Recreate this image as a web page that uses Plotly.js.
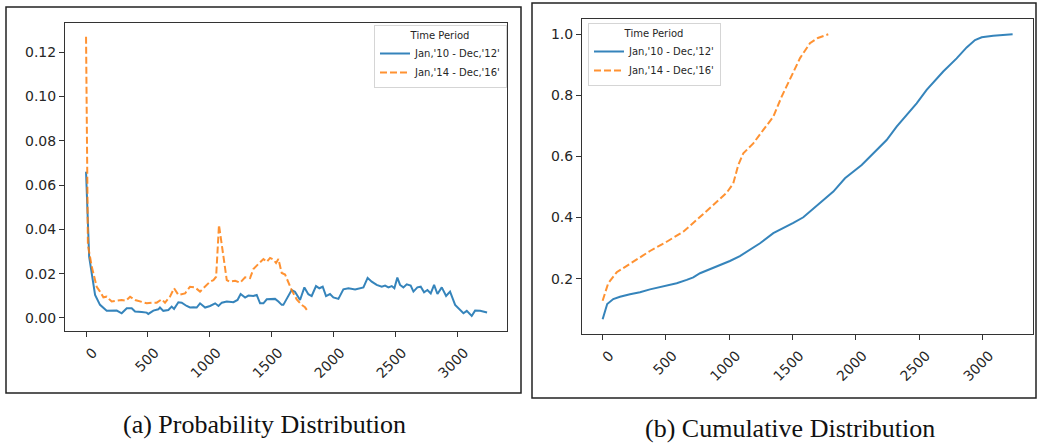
<!DOCTYPE html>
<html>
<head>
<meta charset="utf-8">
<script src="https://cdn.plot.ly/plotly-3.0.1.min.js"></script>
<style>html,body{margin:0;padding:0;background:#fff;}#chart{width:1038px;height:443px;}</style>
</head>
<body>
<div id="chart"></div>
<script>
// ---- Data ----
const seriesNames = ["Jan,'10 - Dec,'12'", "Jan,'14 - Dec,'16'"];
const legendTitle = "Time Period";
const captionA = "(a) Probability Distribution";
const captionB = "(b) Cumulative Distribution";

// (a) probability distribution, period 1
const pdf1X = [0, 25, 73, 113, 167, 248, 288, 329, 369, 396, 450, 490, 503, 544, 584, 597, 624, 665, 692, 711, 746, 773, 813, 840, 867, 894, 921, 962, 1002, 1043, 1070, 1097, 1137, 1191, 1224, 1249, 1285, 1312, 1352, 1379, 1406, 1433, 1460, 1527, 1554, 1581, 1594, 1621, 1661, 1688, 1729, 1764, 1796, 1823, 1858, 1885, 1912, 1939, 1971, 1998, 2039, 2079, 2120, 2174, 2214, 2241, 2275, 2308, 2348, 2389, 2416, 2443, 2470, 2491, 2515, 2537, 2564, 2591, 2623, 2645, 2677, 2704, 2731, 2758, 2785, 2812, 2839, 2874, 2909, 2941, 2982, 3009, 3049, 3076, 3116, 3143, 3184, 3240];
const pdf1Y = [0.066, 0.0277, 0.0104, 0.0059, 0.0032, 0.0033, 0.0021, 0.0044, 0.0044, 0.0029, 0.0027, 0.0024, 0.0018, 0.0033, 0.0039, 0.0047, 0.0032, 0.0036, 0.0051, 0.0041, 0.0071, 0.0069, 0.0054, 0.0047, 0.0048, 0.0047, 0.0066, 0.0047, 0.0054, 0.0066, 0.0054, 0.0069, 0.0074, 0.0071, 0.0081, 0.0108, 0.0092, 0.0101, 0.0099, 0.0104, 0.0066, 0.0066, 0.0084, 0.0086, 0.0074, 0.0059, 0.0059, 0.0089, 0.0126, 0.0118, 0.0081, 0.0138, 0.0107, 0.0099, 0.0144, 0.0134, 0.0141, 0.0099, 0.0108, 0.0093, 0.0086, 0.0129, 0.0134, 0.0129, 0.0134, 0.0138, 0.0181, 0.0164, 0.0149, 0.0141, 0.0146, 0.0138, 0.0144, 0.0134, 0.0182, 0.0149, 0.0138, 0.0152, 0.0146, 0.0119, 0.0138, 0.0141, 0.0116, 0.0126, 0.0111, 0.0149, 0.0108, 0.0138, 0.0099, 0.0119, 0.0059, 0.0044, 0.0021, 0.0032, 0.0009, 0.0033, 0.0032, 0.0025];

// (a) probability distribution, period 2
const pdf2X = [0, 15, 46, 86, 113, 140, 167, 207, 248, 288, 323, 356, 396, 436, 490, 530, 571, 611, 638, 678, 711, 746, 800, 840, 880, 921, 962, 1002, 1029, 1051, 1074, 1104, 1137, 1159, 1205, 1245, 1285, 1325, 1352, 1406, 1433, 1460, 1487, 1514, 1535, 1554, 1581, 1608, 1634, 1661, 1702, 1742, 1769, 1793];
const pdf2Y = [0.127, 0.033, 0.0232, 0.0141, 0.0119, 0.0093, 0.0096, 0.0074, 0.0078, 0.0081, 0.0078, 0.0096, 0.0081, 0.0074, 0.0066, 0.0069, 0.0069, 0.0084, 0.0069, 0.0096, 0.0134, 0.0104, 0.0111, 0.0141, 0.0138, 0.0119, 0.0141, 0.0164, 0.0171, 0.0186, 0.0420, 0.0307, 0.0171, 0.0164, 0.0168, 0.0159, 0.0183, 0.0180, 0.0221, 0.0251, 0.0266, 0.0253, 0.0271, 0.0263, 0.0248, 0.0266, 0.0203, 0.0196, 0.0158, 0.0126, 0.0084, 0.0059, 0.0048, 0.0029];

// (b) cumulative distribution, period 1
const cdf1X = [0, 36, 84, 137, 216, 295, 374, 505, 585, 664, 716, 769, 848, 926, 1005, 1084, 1163, 1243, 1348, 1426, 1506, 1585, 1637, 1690, 1730, 1822, 1914, 2046, 2243, 2322, 2480, 2559, 2690, 2796, 2875, 2941, 2994, 3085, 3238];
const cdf1Y = [0.067, 0.117, 0.1335, 0.141, 0.149, 0.1554, 0.165, 0.176, 0.185, 0.196, 0.2045, 0.218, 0.231, 0.245, 0.258, 0.274, 0.294, 0.316, 0.349, 0.365, 0.383, 0.401, 0.419, 0.440, 0.452, 0.485, 0.5285, 0.572, 0.654, 0.6975, 0.774, 0.818, 0.878, 0.921, 0.957, 0.981, 0.990, 0.995, 1.0];

// (b) cumulative distribution, period 2
const cdf2X = [0, 44, 111, 242, 374, 506, 637, 742, 874, 980, 1032, 1071, 1111, 1190, 1269, 1348, 1414, 1480, 1559, 1637, 1700, 1782];
const cdf2Y = [0.128, 0.185, 0.221, 0.2557, 0.2907, 0.321, 0.354, 0.392, 0.441, 0.4815, 0.512, 0.572, 0.6105, 0.643, 0.687, 0.730, 0.796, 0.856, 0.922, 0.9705, 0.988, 1.0];

const xTicks = [0, 500, 1000, 1500, 2000, 2500, 3000];
const yTicksA = [0, 0.02, 0.04, 0.06, 0.08, 0.10, 0.12];
const yTicksB = [0.2, 0.4, 0.6, 0.8, 1.0];

// ---- Styling ----
const blue = '#1f77b4', orange = '#ff7f0e';
const W = 1038, H = 443;
const tickFont = {family: 'DejaVu Sans, sans-serif', size: 14, color: '#262626'};

function line(x, y, name, color, dash, xa, ya, leg) {
  return {x, y, name, type: 'scatter', mode: 'lines', xaxis: xa, yaxis: ya, legend: leg,
    line: {color, width: 2, dash}, opacity: dash === 'solid' ? 0.9 : 0.85, hoverinfo: 'skip'};
}

const DASH = '7px,3px';
const traces = [
  line(pdf1X, pdf1Y, seriesNames[0], blue, 'solid', 'x', 'y', 'legend'),
  line(pdf2X, pdf2Y, seriesNames[1], orange, DASH, 'x', 'y', 'legend'),
  line(cdf1X, cdf1Y, seriesNames[0], blue, 'solid', 'x2', 'y2', 'legend2'),
  line(cdf2X, cdf2Y, seriesNames[1], orange, DASH, 'x2', 'y2', 'legend2')
];

function xAxis(domain, range, anchor) {
  return {domain, range, anchor, tickvals: xTicks, ticktext: xTicks.map(String), tickangle: -45,
    tickfont: tickFont, ticks: 'outside', ticklen: 5, tickcolor: '#333', showline: true, mirror: true,
    linecolor: '#333', linewidth: 1, showgrid: false, zeroline: false, ticklabelshift: 7, ticklabelstandoff: 2};
}
function yAxis(domain, range, anchor, vals, txt) {
  return {domain, range, anchor, tickvals: vals, ticktext: txt, tickfont: tickFont, ticks: 'outside',
    ticklen: 5, tickcolor: '#333', showline: true, mirror: true, linecolor: '#333', linewidth: 1,
    showgrid: false, zeroline: false};
}

const legendCommon = {
  bgcolor: 'rgba(255,255,255,0.8)', bordercolor: '#d5d5d5', borderwidth: 1,
  font: {family: 'DejaVu Sans, sans-serif', size: 10, color: '#262626'},
  title: {text: legendTitle, side: 'top center', font: {family: 'DejaVu Sans, sans-serif', size: 10, color: '#262626'}},
  tracegroupgap: 0, itemwidth: 30, traceorder: 'normal'
};

const layout = {
  width: W, height: H, margin: {l: 0, r: 0, t: 0, b: 0}, paper_bgcolor: '#fff', plot_bgcolor: '#fff',
  showlegend: true,
  xaxis: xAxis([65 / W, 507 / W], [-170, 3401], 'y'),
  yaxis: yAxis([1 - 331 / H, 1 - 23 / H], [-0.0059, 0.1332], 'x', yTicksA, yTicksA.map(v => v.toFixed(2))),
  xaxis2: xAxis([582 / W, 1033 / W], [-163, 3399], 'y2'),
  yaxis2: yAxis([1 - 334 / H, 1 - 19 / H], [0.019, 1.05], 'x2', yTicksB, yTicksB.map(v => v.toFixed(1))),
  legend: Object.assign({}, legendCommon, {x: 507 / W, xanchor: 'right', y: 1 - 25 / H, yanchor: 'top'}),
  legend2: Object.assign({}, legendCommon, {x: 588 / W, xanchor: 'left', y: 1 - 23 / H, yanchor: 'top'}),
  shapes: [
    {type: 'rect', xref: 'paper', yref: 'paper', x0: 6 / W, x1: 521 / W, y0: 1 - 393 / H, y1: 1 - 7 / H,
      line: {color: '#222', width: 1.5}},
    {type: 'rect', xref: 'paper', yref: 'paper', x0: 532 / W, x1: 1036 / W, y0: 1 - 398 / H, y1: 1 - 3 / H,
      line: {color: '#222', width: 1.5}}
  ],
  annotations: [
    {text: captionA, xref: 'paper', yref: 'paper', x: 264 / W, y: 1 - 424 / H, xanchor: 'center', yanchor: 'middle',
      showarrow: false, font: {family: 'Liberation Serif, Times New Roman, serif', size: 26, color: '#111'}},
    {text: captionB, xref: 'paper', yref: 'paper', x: 790 / W, y: 1 - 428 / H, xanchor: 'center', yanchor: 'middle',
      showarrow: false, font: {family: 'Liberation Serif, Times New Roman, serif', size: 26, color: '#111'}}
  ]
};

Plotly.newPlot('chart', traces, layout, {staticPlot: true, displayModeBar: false});
</script>
</body>
</html>
